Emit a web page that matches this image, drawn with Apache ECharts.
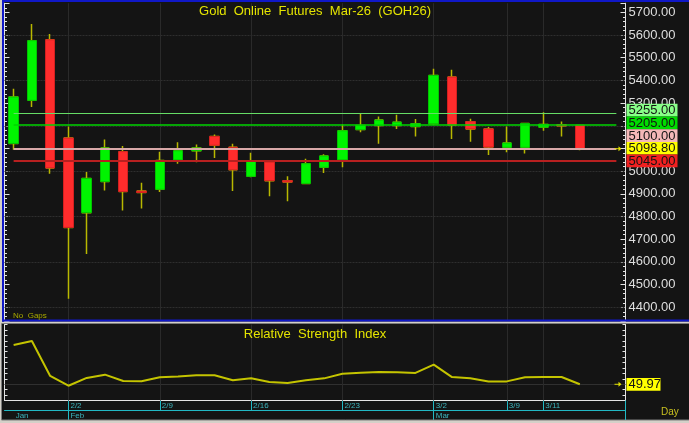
<!DOCTYPE html>
<html>
<head>
<meta charset="utf-8">
<script src="https://cdn.jsdelivr.net/npm/echarts@6/dist/echarts.min.js"></script>
<style>
html,body{margin:0;padding:0;background:#d4d0c8;}
#chart{width:689px;height:423px;}
</style>
</head>
<body>
<div id="chart"></div>
<script>
// ---------------- data ----------------
const dates = ['1/28','1/29','1/30','2/2','2/3','2/4','2/5','2/6','2/9','2/10','2/11','2/12','2/13','2/16','2/17','2/18','2/19','2/20','2/23','2/24','2/25','2/26','2/27','3/2','3/3','3/4','3/5','3/9','3/10','3/11','3/12','3/13'];
const padCats = ['pad1','pad2'];
const opens  = [5122,5312,5579,5146,4817,4954,5086,4912,4920,5049,5090,5153,5105,4977,5040,4958,4946,5017,5050,5183,5201,5201,5197,5209,5415,5218,5186,5105,5105,5194,5204,5201];
const closes = [5327,5575,5014,4752,4968,5102,4910,4906,5047,5090,5102,5114,5006,5046,4958,4952,5033,5067,5178,5201,5225,5216,5209,5422,5203,5186,5106,5124,5210,5206,5200,5098.8];
const lows   = [5094,5283,4989,4438,4635,4915,4827,4835,4908,5033,5039,5058,4912,4973,4889,4867,4942,4992,5017,5171,5121,5186,5153,5205,5142,5130,5071,5083,5078,5178,5153,5092];
const highs  = [5363,5648,5604,5197,4996,5139,5111,4949,5086,5127,5117,5161,5121,5081,5045,4977,5055,5074,5206,5253,5241,5249,5230,5451,5447,5231,5195,5197,5213,5259,5219,5205];
const rsiValues = [68.1,69.9,53.8,49.3,52.9,54.4,51.5,51.4,53.2,53.6,54.1,54.1,51.8,52.7,51.0,50.6,51.8,52.7,54.8,55.3,55.6,55.5,55.2,59.0,53.3,52.7,51.2,51.3,53.2,53.3,53.3,49.97];

const dateTickLabels = ['2/2','2/9','2/16','2/23','3/2','3/9','3/11'];
const monthNames = {'1/28':'Jan','2/2':'Feb','3/2':'Mar'};
const monthTickDates = ['2/2','3/2'];
const priceGridValues = [4400,4600,4800,5000,5200,5400,5600];
const levelValues = [5255,5205,5100,5045];
const tagValues = [5255,5205,5100,5098.80,5045];
const lastPrice = 5098.80;
const rsiGridValue = 50;
const rsiLast = 49.97;
const priceAxisMin = 4340, priceAxisMax = 5740, priceTickStep = 20;
const rsiAxisMin = 42.5, rsiAxisMax = 77.5, rsiTickStep = 2.5;
const titleText = 'Gold  Online  Futures  Mar-26  (GOH26)';
const rsiTitleText = 'Relative  Strength  Index';
const noGapsText = 'No  Gaps';
const periodText = 'Day';

// ---------------- styles ----------------
const F = "'Liberation Sans', Arial, sans-serif";
const levelColors = ['#66dd66','#00d400','#d8a8a8','#b82020'];
const levelWidths = [1,1.5,2,2];
const tagColors = ['#88ff88','#00dc00','#f4b8b8','#ffff00','#f02020'];
const cyan = '#22b8c4', white = '#e4e4e4', wickC = '#b8b800', yellow = '#e4e400';
const PL = 4.5, PW = 621;

const cats = dates.concat(padCats);
const ohlc = dates.map((d,i)=>[opens[i], closes[i], lows[i], highs[i]]);
const bodies = dates.map((d,i)=>[opens[i], closes[i], Math.min(opens[i],closes[i]), Math.max(opens[i],closes[i])]);
const lastIdx = cats.length - 1;

const chart = echarts.init(document.getElementById('chart'), null, {renderer:'canvas'});

const priceAxis = {gridIndex:0, type:'value', min:priceAxisMin, max:priceAxisMax, interval:priceTickStep, splitLine:{show:false}, scale:false};
const rsiAxis = {gridIndex:1, type:'value', min:rsiAxisMin, max:rsiAxisMax, interval:rsiTickStep, splitLine:{show:false},
  axisLine:{show:true, lineStyle:{color:white}}, axisTick:{show:true, inside:true, length:3, lineStyle:{color:white}}, axisLabel:{show:false}};
const majorAxis = {gridIndex:0, type:'value', min:priceAxisMin, max:priceAxisMax, splitNumber:14, splitLine:{show:false},
  axisLine:{show:false}, axisTick:{show:true, inside:true, length:5, lineStyle:{color:white}}, axisLabel:{show:false}};

const option = {
  animation:false,
  backgroundColor:'#141414',
  grid:[
    {left:PL, top:3.22, width:PW, height:317.7},
    {left:PL, top:324.5, width:PW, height:76},
    {left:PL, top:410, width:PW, height:10}
  ],
  xAxis:[
    {gridIndex:0, type:'category', data:cats, show:false},
    {gridIndex:1, type:'category', data:cats, position:'bottom',
      axisLine:{show:true, onZero:false, lineStyle:{color:white, width:1}},
      axisTick:{show:true, alignWithLabel:true, length:9.5, interval:(i,v)=>dateTickLabels.includes(v), lineStyle:{color:cyan}},
      axisLabel:{show:true, interval:0, formatter:v=>dateTickLabels.includes(v)?v:'', color:'#3cb4bc', fontSize:8, fontFamily:F, align:'left', margin:1, padding:[0,0,0,2]},
      splitLine:{show:false}},
    {gridIndex:2, type:'category', data:cats, position:'top',
      axisLine:{show:true, onZero:false, lineStyle:{color:cyan}},
      axisTick:{show:true, inside:true, alignWithLabel:true, length:10, interval:(i,v)=>monthTickDates.includes(v), lineStyle:{color:cyan}},
      axisLabel:{show:true, inside:true, interval:0, formatter:v=>monthNames[v]||'', color:'#3cb4bc', fontSize:8, fontFamily:F, align:'left', margin:2, padding:[0,0,0,2]},
      splitLine:{show:false}}
  ],
  yAxis:[
    Object.assign({}, priceAxis, {position:'right',
      axisLine:{show:true, lineStyle:{color:white}},
      axisTick:{show:true, inside:true, length:2.5, lineStyle:{color:white}},
      axisLabel:{show:true, formatter:v=>(Math.round(v)%100===0)?Number(v).toFixed(2):'', color:'#dedede', fontSize:13, fontFamily:F, margin:3}}),
    Object.assign({}, rsiAxis, {position:'left'}),
    Object.assign({}, rsiAxis, {position:'right'}),
    Object.assign({}, priceAxis, {position:'left',
      axisLine:{show:true, lineStyle:{color:white}},
      axisTick:{show:true, inside:true, length:2.5, lineStyle:{color:white}},
      axisLabel:{show:false}}),
    Object.assign({}, majorAxis, {position:'right'}),
    Object.assign({}, majorAxis, {position:'left'}),
    {gridIndex:2, type:'value', show:false}
  ],
  series:[
    {name:'grid', type:'line', xAxisIndex:0, yAxisIndex:0, data:cats.map(()=>null), z:1, silent:true, showSymbol:false,
      markLine:{silent:true, z:1, symbol:['none','none'], label:{show:false}, animation:false,
        data: priceGridValues.map(v=>({yAxis:v, lineStyle:{color:'#2e2e2e', type:[2,1], width:1}}))
          .concat(dateTickLabels.map(d=>({xAxis:cats.indexOf(d), lineStyle:{color:'#2a2a2a', type:'solid', width:1}})))}},
    {name:'wick', type:'candlestick', xAxisIndex:0, yAxisIndex:0, data:ohlc, barWidth:8, z:2, silent:true,
      itemStyle:{color:wickC, color0:wickC, borderColor:wickC, borderColor0:wickC, borderWidth:1.5}},
    {name:'body', type:'candlestick', xAxisIndex:0, yAxisIndex:0, data:bodies, barWidth:10, z:3, silent:true,
      itemStyle:{color:'#00f400', color0:'#ff2c2c', borderColor:'#00c400', borderColor0:'#d42020', borderWidth:1},
      markLine:{silent:true, z:6, symbol:['none','none'], label:{show:false}, animation:false,
        data: levelValues.map((v,i)=>[{coord:[0,v], lineStyle:{color:levelColors[i], width:levelWidths[i], type:'solid'}},{coord:[lastIdx,v]}])}},
    {name:'rsi', type:'line', xAxisIndex:1, yAxisIndex:1, data:rsiValues, z:3, silent:true, showSymbol:false, symbol:'none',
      lineStyle:{color:'#c4c400', width:2}, itemStyle:{color:'#c4c400'},
      markLine:{silent:true, z:1, symbol:['none','none'], label:{show:false}, animation:false,
        data:[{yAxis:rsiGridValue, lineStyle:{color:'#303030', type:'solid', width:1}}]
          .concat(dateTickLabels.map(d=>({xAxis:cats.indexOf(d), lineStyle:{color:'#2a2a2a', type:'solid', width:1}})))}}
  ]
};
chart.setOption(option);

// ---------------- decorations (positions derived from the axes) ----------------
const yP = v => chart.convertToPixel({yAxisIndex:0}, v);
const yR = v => chart.convertToPixel({yAxisIndex:1}, v);
const plotRight = PL + PW;
const plotCenter = PL + PW/2;
const txt = (x, y, text, fill, size, align) => ({type:'text', x:x, y:y, z:120,
  style:{text:text, fill:fill, font:size+'px '+F, align:align||'left', verticalAlign:'middle', textAlign:align||'left', textVerticalAlign:'middle'}});
const rect = (x,y,w,h,fill,z) => ({type:'rect', shape:{x:x,y:y,width:w,height:h}, style:{fill:fill}, z:z||110});

const g = [];
// frame
g.push(rect(0,0,2,423,'#d4d0c8'));
g.push(rect(0,321.5,689,2,'#d4d0c8'));
g.push(rect(0,420,689,3,'#d4d0c8'));
g.push(rect(2,0,687,2,'#1018c8'));
g.push(rect(2,0,2,321.5,'#1018c8'));
g.push(rect(2,319.5,687,2,'#1018c8'));
g.push({type:'rect', shape:{x:1.5,y:323.5,width:700,height:96.5}, style:{fill:null, stroke:'#7c7c7c', lineWidth:1}, z:110});
g.push({type:'line', shape:{x1:plotRight,y1:400.5,x2:plotRight,y2:420}, style:{stroke:cyan, lineWidth:1}, z:110});
// titles
g.push(txt(plotCenter, 11, titleText, yellow, 13, 'center'));
g.push(txt(plotCenter, 334.5, rsiTitleText, yellow, 13, 'center'));
g.push(txt(13, 316, noGapsText, '#a8a800', 8, 'left'));
g.push(txt(661, 412, periodText, '#c8c020', 10, 'left'));
// price tags, stacked upward from the lowest
const tagH = 12.7;
const tagY = [];
let prevY = Infinity;
for (let i = tagValues.length-1; i >= 0; i--) {
  const y = Math.min(yP(tagValues[i]), prevY - tagH);
  tagY[i] = y; prevY = y;
}
tagValues.forEach((v,i)=>{
  g.push(rect(plotRight+1, tagY[i]-tagH/2, 51, tagH, tagColors[i], 115));
  g.push(txt(plotRight+3, tagY[i]+0.5, v.toFixed(2), '#141414', 13, 'left'));
});
// last price arrow
const arrow = (y) => [
  {type:'line', shape:{x1:plotRight-11,y1:y,x2:plotRight-6,y2:y}, style:{stroke:'#e0e000', lineWidth:1}, z:112},
  {type:'polygon', shape:{points:[[plotRight-7,y-2.5],[plotRight-4,y],[plotRight-7,y+2.5]]}, style:{fill:'#e0e000'}, z:112}
];
arrow(yP(lastPrice)).forEach(e=>g.push(e));
// RSI tag
const ry = yR(rsiLast);
g.push(rect(plotRight+1, ry-6.35, 34, 12.7, '#ffff00', 115));
g.push(txt(plotRight+3, ry+0.5, rsiLast.toFixed(2), '#141414', 13, 'left'));
arrow(ry).forEach(e=>g.push(e));

chart.setOption({graphic:{elements:g}});
</script>
</body>
</html>
